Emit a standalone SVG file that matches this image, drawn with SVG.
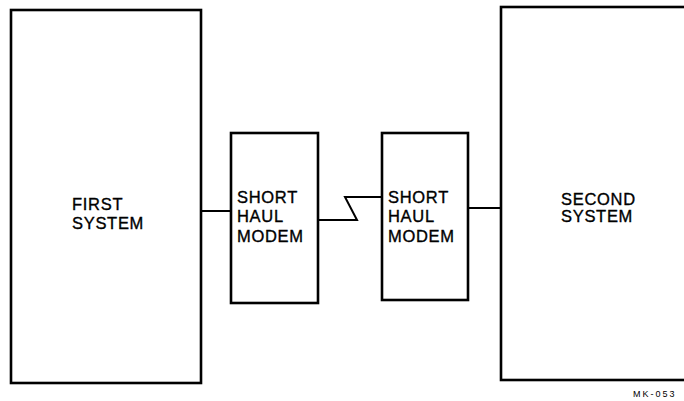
<svg xmlns="http://www.w3.org/2000/svg" width="684" height="401" viewBox="0 0 684 401">
<style>
.box{fill:#fff;stroke:#000;stroke-width:2.6}
.wire{fill:none;stroke:#000;stroke-width:2}
.lbl{font-family:"Liberation Sans",Arial,sans-serif;font-size:16.5px;letter-spacing:0.7px;fill:#000;stroke:#000;stroke-width:0.35}
.tag{font-family:"Liberation Sans",Arial,sans-serif;font-size:9px;letter-spacing:2px;fill:#000}
</style>
<rect width="684" height="401" fill="#fff"/>
<g id="connectors">
<line class="wire" x1="201" y1="211" x2="231" y2="211"/>
<polyline class="wire" points="318,220 357,220 345,197 382,197"/>
<line class="wire" x1="468" y1="208" x2="501" y2="208"/>
</g>
<g id="first-system">
<rect class="box" x="11" y="10" width="190" height="373"/>
<text class="lbl" x="72" y="210">FIRST</text>
<text class="lbl" x="72" y="229">SYSTEM</text>
</g>
<g id="modem-1">
<rect class="box" x="231" y="133" width="87" height="170"/>
<text class="lbl" x="237" y="202.5">SHORT</text>
<text class="lbl" x="237" y="222">HAUL</text>
<text class="lbl" x="237" y="241.5">MODEM</text>
</g>
<g id="modem-2">
<rect class="box" x="382" y="133" width="86" height="167"/>
<text class="lbl" x="388" y="202.5">SHORT</text>
<text class="lbl" x="388" y="222">HAUL</text>
<text class="lbl" x="388" y="241.5">MODEM</text>
</g>
<g id="second-system">
<rect class="box" x="501" y="7" width="200" height="373"/>
<text class="lbl" x="561" y="205">SECOND</text>
<text class="lbl" x="561" y="222">SYSTEM</text>
</g>
<text class="tag" x="633" y="397">MK-053</text>
</svg>
